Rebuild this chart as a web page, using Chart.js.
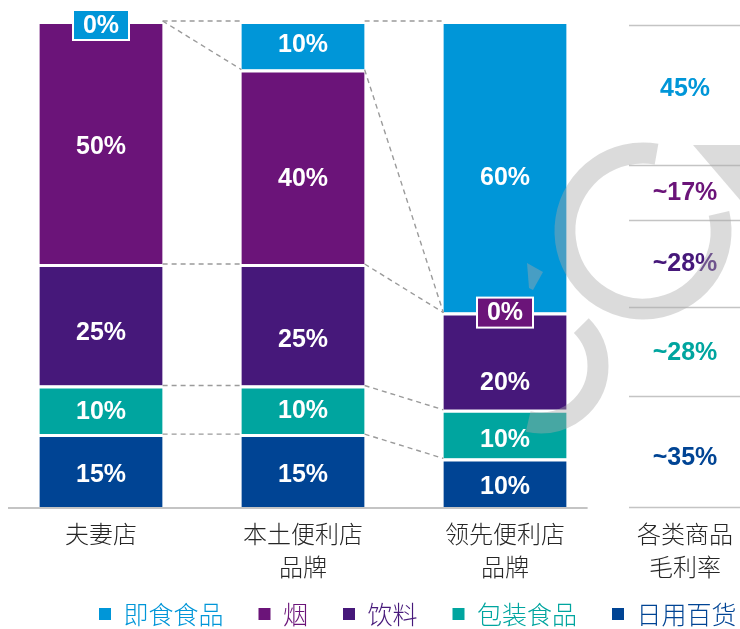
<!DOCTYPE html>
<html>
<head>
<meta charset="utf-8">
<script src="https://cdn.jsdelivr.net/npm/chart.js@4.4.1/dist/chart.umd.min.js"></script>
<style>
  html, body { margin: 0; padding: 0; background: #fff; }
  #wrap { width: 740px; height: 629px; }
</style>
</head>
<body>
<div id="wrap"><canvas id="marginChart"></canvas></div>
<script>
// categories and series, stacked bottom to top
const storeTypes = ['夫妻店', ['本土便利店', '品牌'], ['领先便利店', '品牌']];
const seriesNames = ['日用百货', '包装食品', '饮料', '烟', '即食食品'];
const dailyGoods = [15, 15, 10];
const packagedFood = [10, 10, 10];
const drinks = [25, 25, 20];
const tobacco = [50, 40, 0];
const readyFood = [0, 10, 60];
// gross margin by category, bottom to top
const marginLabels = ['~35%', '~28%', '~28%', '~17%', '45%'];
const marginTitle = ['各类商品', '毛利率'];

const colors = ['#004494', '#00a59f', '#46187a', '#6b1479', '#0096d8'];
const seriesValues = [dailyGoods, packagedFood, drinks, tobacco, readyFood];

const tickFont = { family: '"Noto Sans CJK SC", sans-serif', size: 24, weight: 300, lineHeight: 1.375 };
const numFont = 'bold 25px "Liberation Sans", Arial, sans-serif';

// layout tweaks: label offsets (px) per series/bar, right column rows (y units)
const labelNudge = [[3.5, 3.5, 3], [1, 0.5, 5], [7, 14, 21], [4, 11, 0], [0, -1, 10]];
const rowEdges = [0, 22.8, 41.2, 59.1, 70.4, 99.2];
const rowLabelAt = [10.3, 31.9, 50.1, 64.7, 86.2];

const deg = d => d * Math.PI / 180;

const overlay = {
  id: 'overlay',
  afterLayout(chart) {
    // nudge the legend to where the original sits
    const lg = chart.legend;
    if (!lg) return;
    lg.top -= 17.5;
    lg.left = 64;
    lg.right = 820;
  },
  afterDatasetsDraw(chart) {
    const { ctx, scales: { x, y }, chartArea } = chart;
    const metas = chart.data.datasets.map((d, i) => chart.getDatasetMeta(i));

    // dashed connectors between bars
    ctx.save();
    ctx.strokeStyle = '#9b9b9b';
    ctx.lineWidth = 1.4;
    ctx.setLineDash([5, 4]);
    for (let c = 0; c < storeTypes.length - 1; c++) {
      metas.forEach(meta => {
        const a = meta.data[c], b = meta.data[c + 1];
        ctx.beginPath();
        ctx.moveTo(a.x + a.width / 2, a.y);
        ctx.lineTo(b.x - b.width / 2, b.y);
        ctx.stroke();
      });
    }
    ctx.restore();

    // baseline
    ctx.save();
    ctx.strokeStyle = '#c4c4c4';
    ctx.lineWidth = 2;
    const lastBar = metas[0].data[storeTypes.length - 1];
    ctx.beginPath();
    ctx.moveTo(chartArea.left + 8, chartArea.bottom + 1);
    ctx.lineTo(lastBar.x + lastBar.width / 2 + 21, chartArea.bottom + 1);
    ctx.stroke();

    // right column: margins
    const colL = chartArea.right + 23, colR = chart.width, colC = chartArea.right + 79;
    ctx.lineWidth = 1.5;
    rowEdges.forEach(v => {
      const py = Math.round(y.getPixelForValue(v)) + 0.5;
      ctx.beginPath(); ctx.moveTo(colL, py); ctx.lineTo(colR, py); ctx.stroke();
    });
    ctx.font = numFont;
    ctx.textAlign = 'center';
    ctx.textBaseline = 'middle';
    marginLabels.forEach((t, i) => {
      ctx.fillStyle = colors[i];
      ctx.fillText(t, colC, y.getPixelForValue(rowLabelAt[i]) + 1);
    });

    // column title in the tick row
    ctx.font = `${tickFont.weight} ${tickFont.size}px ${tickFont.family}`;
    ctx.fillStyle = '#262626';
    const lh = tickFont.size * tickFont.lineHeight;
    marginTitle.forEach((t, i) => {
      ctx.fillText(t, colC, x.top + 10.5 + lh / 2 + i * lh);
    });

    // value labels
    ctx.font = numFont;
    metas.forEach((meta, di) => {
      meta.data.forEach((bar, i) => {
        const v = seriesValues[di][i];
        if (v > 0) {
          ctx.fillStyle = '#fff';
          ctx.fillText(v + '%', bar.x, (bar.y + bar.base) / 2 + labelNudge[di][i] + 1);
        } else {
          const cy = Math.max(bar.y, chartArea.top + 4);
          const w = 56, h = 30;
          ctx.fillStyle = colors[di];
          ctx.fillRect(bar.x - w / 2, cy - h / 2, w, h);
          ctx.strokeStyle = '#fff';
          ctx.lineWidth = 2;
          ctx.strokeRect(bar.x - w / 2, cy - h / 2, w, h);
          ctx.fillStyle = '#fff';
          ctx.fillText(v + '%', bar.x, cy + 1);
        }
      });
    });
    ctx.restore();
  },
  afterDraw(chart) {
    // faint watermark
    const { ctx } = chart;
    ctx.save();
    ctx.strokeStyle = ctx.fillStyle = 'rgba(170,170,170,0.42)';
    ctx.lineWidth = 21;
    ctx.beginPath(); ctx.arc(643, 231, 78, deg(-13), deg(280)); ctx.stroke();
    ctx.beginPath(); ctx.arc(541, 366, 57, deg(-45), deg(103)); ctx.stroke();
    ctx.beginPath();
    ctx.moveTo(693, 145); ctx.lineTo(740, 145); ctx.lineTo(740, 200); ctx.closePath(); ctx.fill();
    ctx.beginPath();
    ctx.moveTo(527, 263); ctx.lineTo(543, 272); ctx.lineTo(533, 290); ctx.lineTo(529, 288); ctx.closePath(); ctx.fill();
    ctx.restore();
  }
};

new Chart(document.getElementById('marginChart'), {
  type: 'bar',
  data: {
    labels: storeTypes,
    datasets: seriesNames.map((name, i) => ({
      label: name,
      data: seriesValues[i],
      backgroundColor: colors[i],
      borderColor: '#fff',
      borderWidth: { top: 3, bottom: 0, left: 0, right: 0 },
      borderSkipped: false,
      categoryPercentage: 1,
      barPercentage: 0.61
    }))
  },
  options: {
    responsive: true,
    maintainAspectRatio: false,
    animation: false,
    layout: { padding: { top: 21, right: 0, left: 0, bottom: 0 } },
    scales: {
      x: {
        stacked: true,
        grid: { display: false, drawTicks: false },
        border: { display: false },
        ticks: { color: '#262626', font: tickFont, padding: 10.5, maxRotation: 0, autoSkip: false },
        afterFit: s => { s.height = 77; }
      },
      y: {
        stacked: true,
        position: 'right',
        min: 0,
        max: 100,
        grid: { display: false, drawTicks: false },
        border: { display: false },
        ticks: { display: false },
        afterFit: s => { s.width = 134; }
      }
    },
    plugins: {
      tooltip: { enabled: false },
      legend: {
        position: 'bottom',
        align: 'start',
        reverse: true,
        maxHeight: 45,
        labels: {
          boxWidth: 12,
          boxHeight: 12,
          padding: 35,
          font: { family: '"Noto Sans CJK SC", sans-serif', size: 25, weight: 300 },
          generateLabels(chart) {
            const items = Chart.defaults.plugins.legend.labels.generateLabels(chart);
            items.forEach(it => {
              it.fontColor = it.fillStyle;
              it.strokeStyle = it.fillStyle;
              it.lineWidth = 0;
            });
            return items;
          }
        }
      }
    }
  },
  plugins: [overlay]
});
</script>
</body>
</html>
